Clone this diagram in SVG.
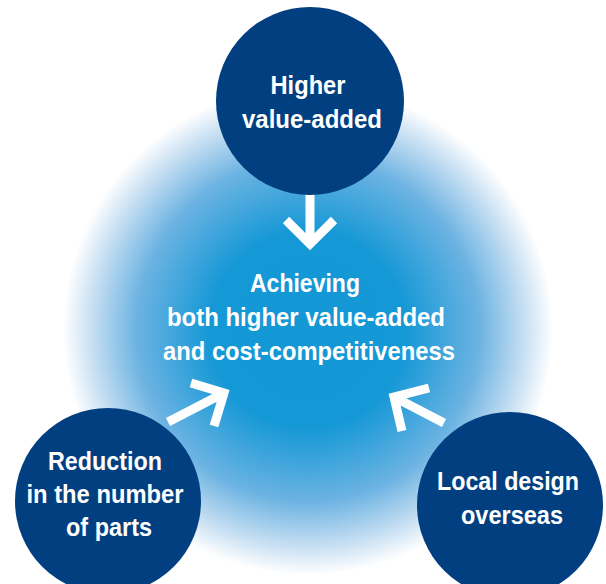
<svg xmlns="http://www.w3.org/2000/svg" width="606" height="584" viewBox="0 0 606 584">
<defs>
<radialGradient id="glow" cx="308" cy="330" r="245" gradientUnits="userSpaceOnUse">
<stop offset="0" stop-color="#1497d5"/>
<stop offset="0.4" stop-color="#1598d6"/>
<stop offset="0.7" stop-color="#6cb3e2"/>
<stop offset="0.88" stop-color="#c5def2"/>
<stop offset="1" stop-color="#ffffff"/>
</radialGradient>
<style>
.node{fill:#023f80}
.t{font-family:"Liberation Sans",Arial,sans-serif;font-weight:bold;font-size:25px;fill:#ffffff;text-anchor:middle}
.arr{fill:none;stroke:#ffffff;stroke-width:9}
</style>
</defs>
<rect width="606" height="584" fill="#ffffff"/>
<circle cx="308" cy="330" r="245" fill="url(#glow)"/>
<g id="connectors">
<path class="arr" d="M310 190 V244 M286 220 L310 244 L334 220"/>
<path class="arr" d="M168 422 L224 393 M191 383 L224 393 L214 426"/>
<path class="arr" d="M444 423 L394 397 M429 388 L394 397 L402 431"/>
</g>
<g id="center">
<text class="t" x="305" y="292" textLength="110" lengthAdjust="spacingAndGlyphs">Achieving</text>
<text class="t" x="306" y="326" textLength="278" lengthAdjust="spacingAndGlyphs">both higher value-added</text>
<text class="t" x="309" y="360" textLength="292" lengthAdjust="spacingAndGlyphs">and cost-competitiveness</text>
</g>
<g id="top">
<circle class="node" cx="310" cy="101" r="94"/>
<text class="t" x="308" y="94" textLength="75" lengthAdjust="spacingAndGlyphs">Higher</text>
<text class="t" x="312" y="128" textLength="140" lengthAdjust="spacingAndGlyphs">value-added</text>
</g>
<g id="left">
<circle class="node" cx="108" cy="501" r="93"/>
<text class="t" x="105" y="470" textLength="114" lengthAdjust="spacingAndGlyphs">Reduction</text>
<text class="t" x="105" y="503" textLength="157" lengthAdjust="spacingAndGlyphs">in the number</text>
<text class="t" x="109" y="536" textLength="86" lengthAdjust="spacingAndGlyphs">of parts</text>
</g>
<g id="right">
<circle class="node" cx="510" cy="505" r="93"/>
<text class="t" x="508" y="490" textLength="142" lengthAdjust="spacingAndGlyphs">Local design</text>
<text class="t" x="512" y="524" textLength="102" lengthAdjust="spacingAndGlyphs">overseas</text>
</g>
</svg>
